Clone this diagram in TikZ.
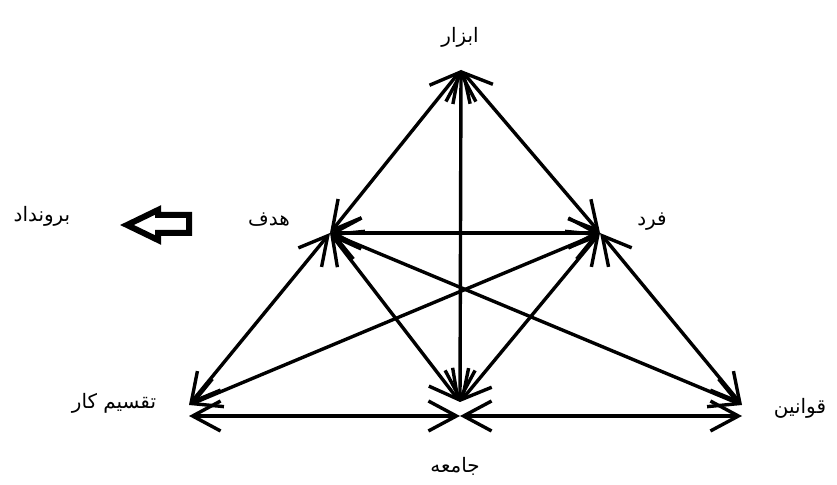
\documentclass[tikz,border=0pt]{standalone}
\usepackage{fontspec}
\newfontfamily\arabicfont[Script=Arabic]{DejaVu Sans}
\TeXXeTstate=1
\usetikzlibrary{arrows.meta}

\begin{document}
\begin{tikzpicture}[x=0.5bp,y=-0.5bp,
    link/.style={{Straight Barb[length=14bp,width=15bp]}-{Straight Barb[length=14bp,width=15bp]},line width=1.7bp},
    lbl/.style={font=\arabicfont\fontsize{10}{12}\selectfont,inner sep=1bp}
  ]
    \useasboundingbox (0,0) rectangle (837,485);
    % corners of the triangle
    \coordinate (tool) at (461,70);
    \coordinate (goal) at (330,233);
    \coordinate (subj) at (600,233);
    \coordinate (div) at (189,405);
    \coordinate (comm) at (460,402);
    \coordinate (rules) at (742,405);
    \coordinate (divB) at (189,416);
    \coordinate (commB) at (460,416);
    \coordinate (rulesB) at (742,416);
    % labels
    \node[lbl] (toolL) at (460,37) {\beginR ابزار\endR};
    \node[lbl] (goalL) at (269,220) {\beginR هدف\endR};
    \node[lbl] (subjL) at (652,222) {\beginR فرد\endR};
    \node[lbl] (divL) at (114,403) {\beginR تقسیم کار\endR};
    \node[lbl] (commL) at (455,466) {\beginR جامعه\endR};
    \node[lbl] (rulesL) at (800,408) {\beginR قوانین\endR};
    \node[lbl] (outL) at (42,216) {\beginR برونداد\endR};
    % hollow arrow to the outcome
    \draw[line width=3bp,miter limit=10,fill=white]
      (189,215) -- (158,215) -- (158,210) -- (127,225) -- (158,240) -- (158,233) -- (189,233) -- cycle;
    % connections
    \draw[link] (tool) -- (goal);
    \draw[link] (tool) -- (subj);
    \draw[link] (tool) -- (comm);
    \draw[link] (goal) -- (subj);
    \foreach \a in {goal,subj}
      \foreach \b in {div,comm,rules}
        \draw[link] (\a) -- (\b);
    \draw[link] (divB) -- (commB);
    \draw[link] (commB) -- (rulesB);
\end{tikzpicture}
\end{document}
